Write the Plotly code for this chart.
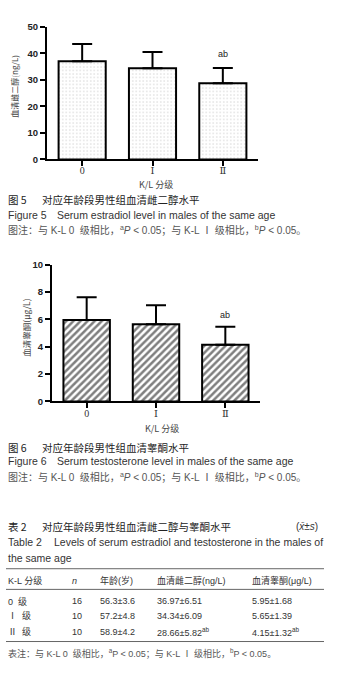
import plotly.graph_objects as go

W, H = 338, 678

# ---------------- data ----------------
categories = ["0", "Ⅰ", "Ⅱ"]
estradiol_mean = [36.97, 34.34, 28.66]
estradiol_sd = [6.51, 6.09, 5.82]
testosterone_mean = [5.95, 5.65, 4.15]
testosterone_sd = [1.68, 1.39, 1.32]
sig_labels = ["", "", "ab"]

grade_labels = ["0  级", "Ⅰ  级", "Ⅱ  级"]
group_n = [16, 10, 10]
age_mean = [56.3, 57.2, 58.9]
age_sd = [3.6, 4.8, 4.2]
table_sup = ["", "", "ab"]
table_header = ["K-L 分级", "<i>n</i>", "年龄(岁)", "血清雌二醇(ng/L)", "血清睾酮(μg/L)"]

e2_ticks = [0, 10, 20, 30, 40, 50]
t_ticks = [0, 2, 4, 6, 8, 10]

LAT = "Liberation Sans, Noto Sans CJK SC"
CJK = "Noto Sans CJK SC, Liberation Sans"
SERIF = "Liberation Serif, DejaVu Serif"


def px(x):
    return x / W


def py(y):
    return 1 - y / H


fig = go.Figure()

fig.add_trace(go.Bar(
    x=categories, y=estradiol_mean, width=0.67,
    error_y=dict(type="data", array=estradiol_sd, arrayminus=[0] * len(estradiol_sd),
                 symmetric=False, color="black", thickness=2, width=10),
    marker=dict(color="white", line=dict(color="black", width=2),
                pattern=dict(shape=".", size=3.5, solidity=0.15, fgcolor="#aaa", bgcolor="white")),
    xaxis="x", yaxis="y", showlegend=False, hoverinfo="skip",
))

fig.add_trace(go.Bar(
    x=categories, y=testosterone_mean, width=0.67,
    error_y=dict(type="data", array=testosterone_sd, arrayminus=[0] * len(testosterone_sd),
                 symmetric=False, color="black", thickness=2, width=10),
    marker=dict(color="white", line=dict(color="black", width=2),
                pattern=dict(shape="/", size=5, solidity=0.5, fgcolor="black", bgcolor="white")),
    xaxis="x2", yaxis="y2", showlegend=False, hoverinfo="skip",
))

axis_common = dict(showline=True, linecolor="black", linewidth=2, ticks="outside",
                   ticklen=5, tickwidth=2, tickcolor="black", showgrid=False, zeroline=False)

fig.update_layout(
    width=W, height=H, margin=dict(l=0, r=0, t=0, b=0),
    paper_bgcolor="white", plot_bgcolor="white",
    xaxis=dict(domain=[px(47), px(258)], anchor="y", ticklabelstandoff=-4,
               tickfont=dict(family=SERIF, size=10, color="#333"), **axis_common),
    yaxis=dict(domain=[py(156), py(21)], anchor="x", range=[0, 50], tickvals=e2_ticks,
               tickfont=dict(family=LAT, size=9.5, color="#222", weight="bold"), **axis_common),
    xaxis2=dict(domain=[px(52), px(260)], anchor="y2", ticklabelstandoff=-3,
                tickfont=dict(family=SERIF, size=10, color="#333"), **axis_common),
    yaxis2=dict(domain=[py(402), py(263)], anchor="x2", range=[0, 10], tickvals=t_ticks,
                tickfont=dict(family=LAT, size=9.5, color="#222", weight="bold"), **axis_common),
    bargap=0.33,
)

ann = []

# significance labels
for c, m, s, lab in zip(categories, estradiol_mean, estradiol_sd, sig_labels):
    if lab:
        ann.append(dict(x=c, y=m + s, xref="x", yref="y", text=lab, showarrow=False,
                        yshift=14, font=dict(family=LAT, size=9, color="#222")))
for c, m, s, lab in zip(categories, testosterone_mean, testosterone_sd, sig_labels):
    if lab:
        ann.append(dict(x=c, y=m + s, xref="x2", yref="y2", text=lab, showarrow=False,
                        yshift=12, font=dict(family=LAT, size=9, color="#222")))


def text(x, y, t, size=10.5, family=LAT, color="#333", xanchor="left", angle=0):
    ann.append(dict(x=px(x), y=py(y), xref="paper", yref="paper", text=t, showarrow=False,
                    xanchor=xanchor, yanchor="middle", textangle=angle,
                    font=dict(family=family, size=size, color=color)))


# axis titles
text(15, 82, "血清雌二醇(ng/L)", size=8, family=CJK, color="#444", xanchor="center", angle=-90)
text(156, 181, "K/L 分级", size=9, family=CJK, color="#444", xanchor="center")
text(26, 327, "血清睾酮(μg/L)", size=8.5, family=CJK, color="#444", xanchor="center", angle=-90)
text(162, 429, "K/L 分级", size=9, family=CJK, color="#444", xanchor="center")

# figure 5 captions
text(6, 197, "图 5", size=10.5, family=CJK, color="#222")
text(40, 197, "对应年龄段男性组血清雌二醇水平", size=10.5, family=CJK, color="#222")
text(6, 212, "Figure 5", size=10.5, color="#333")
text(55, 212, "Serum estradiol level in males of the same age", size=10.5, color="#333")
note = "图注：与 K-L 0  级相比，<sup>a</sup><i>P</i> &lt; 0.05；与 K-L Ⅰ 级相比，<sup>b</sup><i>P</i> &lt; 0.05。"
text(6, 228, note, size=10, color="#555")

# figure 6 captions
text(6, 449, "图 6", size=10.5, family=CJK, color="#222")
text(40, 449, "对应年龄段男性组血清睾酮水平", size=10.5, family=CJK, color="#222")
text(6, 463, "Figure 6", size=10.5, color="#333")
text(55, 463, "Serum testosterone level in males of the same age", size=10.5, color="#333")
text(6, 479, note, size=10, color="#555")

# table 2
text(6, 529, "表 2", size=10.5, family=CJK, color="#222")
text(40, 529, "对应年龄段男性组血清雌二醇与睾酮水平", size=10.5, family=CJK, color="#222")
text(320, 529, "(<i>x̄</i>±<i>s</i>)", size=10, color="#333", xanchor="right")
text(6, 545, "Table 2", size=10.5, color="#333")
text(52, 545, "Levels of serum estradiol and testosterone in the males of", size=10.5, color="#333")
text(6, 561, "the same age", size=10.5, color="#333")

col_x = [6, 70, 98, 155, 250]
for x, h in zip(col_x, table_header):
    text(x, 584, h, size=9, color="#333")

row_y = [605, 620, 636]
for i, yy in enumerate(row_y):
    sup = f"<sup>{table_sup[i]}</sup>" if table_sup[i] else ""
    cells = [
        grade_labels[i],
        str(group_n[i]),
        f"{age_mean[i]:.1f}±{age_sd[i]:.1f}",
        f"{estradiol_mean[i]:.2f}±{estradiol_sd[i]:.2f}{sup}",
        f"{testosterone_mean[i]:.2f}±{testosterone_sd[i]:.2f}{sup}",
    ]
    for x, c in zip(col_x, cells):
        text(x, yy, c, size=9, color="#333")

tnote = "表注：与 K-L 0  级相比，<sup>a</sup>P &lt; 0.05；与 K-L Ⅰ 级相比，<sup>b</sup>P &lt; 0.05。"
text(6, 658, tnote, size=9, color="#555")

shapes = []
for yy in [572, 593, 646]:
    shapes.append(dict(type="line", xref="paper", yref="paper", x0=px(6), x1=px(324),
                       y0=py(yy), y1=py(yy), line=dict(color="#666", width=1)))

fig.update_layout(annotations=ann, shapes=shapes)

fig.write_html(
    "out.html",
    config={"displayModeBar": False},
    post_script="document.body.style.margin='0';document.body.style.overflow='hidden';",
)
